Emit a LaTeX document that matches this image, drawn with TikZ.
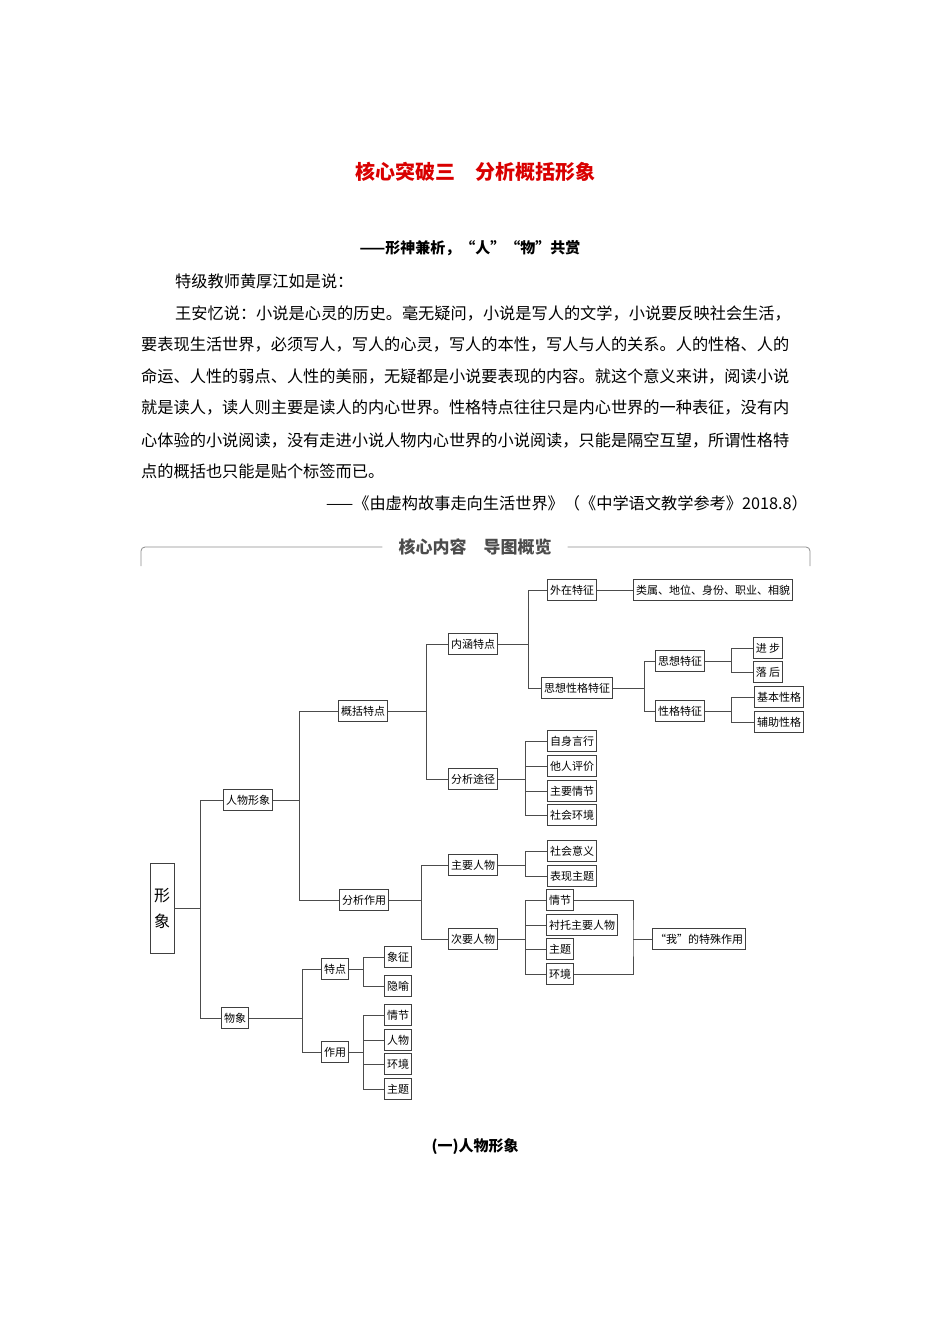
\documentclass[tikz,border=0pt]{standalone}
\usepackage{fontspec}
\setmainfont{Noto Sans CJK SC}
\usepackage{tikz}

\begin{document}
\begin{tikzpicture}[x=1pt, y=-1pt,
    box/.style={draw=black!75, semithick, inner sep=2.5pt, minimum height=21pt, font=\fontsize{11}{12}\selectfont},
    conn/.style={draw=black!70, semithick},
    body/.style={anchor=west, inner sep=0pt, font=\fontsize{16.2}{17}\selectfont}]
    \useasboundingbox (0,0) rectangle (950,1344);
    % heading and text
    \node[font=\fontsize{20}{20}\selectfont\bfseries, text=red!85!black] (title) at (475,172) {核心突破三\quad 分析概括形象};
    \node[font=\fontsize{15}{16}\selectfont\bfseries] (sub) at (470,248) {——形神兼析，“人”“物”共赏};
    \node[body] (l0) at (175,281) {特级教师黄厚江如是说：};
    \node[body] (l1) at (175,313) {王安忆说：小说是心灵的历史。毫无疑问，小说是写人的文学，小说要反映社会生活，};
    \node[body] (l2) at (141,345) {要表现生活世界，必须写人，写人的心灵，写人的本性，写人与人的关系。人的性格、人的};
    \node[body] (l3) at (141,376) {命运、人性的弱点、人性的美丽，无疑都是小说要表现的内容。就这个意义来讲，阅读小说};
    \node[body] (l4) at (141,408) {就是读人，读人则主要是读人的内心世界。性格特点往往只是内心世界的一种表征，没有内};
    \node[body] (l5) at (141,440) {心体验的小说阅读，没有走进小说人物内心世界的小说阅读，只能是隔空互望，所谓性格特};
    \node[body] (l6) at (141,471) {点的概括也只能是贴个标签而已。};
    \node[body, anchor=east] (l7) at (808,503) {——《由虚构故事走向生活世界》（《中学语文教学参考》2018.8）};
    % frame of the map
    \node[font=\fontsize{17}{18}\selectfont\bfseries, text=black!70, inner xsep=16pt] (map) at (475,547) {核心内容\quad 导图概览};
    \draw[black!45, thick, rounded corners=4pt] (141,566) |- (map.west);
    \draw[black!45, thick, rounded corners=4pt] (map.east) -| (810,566);
    % boxes
    \node[box, minimum width=24pt, minimum height=90pt, font=\fontsize{16}{26}\selectfont, align=center] (xx) at (162,908) {形\\象};
    \node[box] (rw) at (248,800) {人物形象};
    \node[box] (wx) at (235,1018) {物象};
    \node[box] (gk) at (363,711) {概括特点};
    \node[box] (fxzy) at (364,900) {分析作用};
    \node[box] (nh) at (473,644) {内涵特点};
    \node[box] (tj) at (473,779) {分析途径};
    \node[box] (wz) at (572,590) {外在特征};
    \node[box] (lei) at (713,590) {类属、地位、身份、职业、相貌};
    \node[box] (sxxg) at (577,688) {思想性格特征};
    \node[box] (sx) at (680,661) {思想特征};
    \node[box] (xg) at (680,711) {性格特征};
    \node[box] (jb) at (768,648) {进 步};
    \node[box] (lh) at (768,672) {落 后};
    \node[box] (jbxg) at (779,697) {基本性格};
    \node[box] (fzxg) at (779,722) {辅助性格};
    \node[box] (t1) at (572,741) {自身言行};
    \node[box] (t2) at (572,766) {他人评价};
    \node[box] (t3) at (572,791) {主要情节};
    \node[box] (t4) at (572,815) {社会环境};
    \node[box] (zy) at (473,865) {主要人物};
    \node[box] (cy) at (473,939) {次要人物};
    \node[box] (z1) at (572,851) {社会意义};
    \node[box] (z2) at (572,876) {表现主题};
    \node[box] (c1) at (560,900) {情节};
    \node[box] (c2) at (582,925) {衬托主要人物};
    \node[box] (c3) at (560,949) {主题};
    \node[box] (c4) at (560,974) {环境};
    \node[box] (wo) at (699,939) {“我”的特殊作用};
    \node[box] (td) at (335,969) {特点};
    \node[box] (zyo) at (335,1052) {作用};
    \node[box] (d1) at (398,957) {象征};
    \node[box] (d2) at (398,986) {隐喻};
    \node[box] (y1) at (398,1015) {情节};
    \node[box] (y2) at (398,1040) {人物};
    \node[box] (y3) at (398,1064) {环境};
    \node[box] (y4) at (398,1089) {主题};
    % connectors
    \foreach \a/\b/\d in {xx/rw/26, xx/wx/26, rw/gk/26, rw/fxzy/26, gk/nh/38,
        gk/tj/38, nh/wz/30, nh/sxxg/30, sxxg/sx/31, sxxg/xg/31,
        sx/jb/26, sx/lh/26, xg/jbxg/26, xg/fzxg/26,
        tj/t1/27, tj/t2/27, tj/t3/27, tj/t4/27, fxzy/zy/32, fxzy/cy/32,
        zy/z1/27, zy/z2/27, cy/c1/27, cy/c2/27, cy/c3/27, cy/c4/27,
        wx/td/53, wx/zyo/53, td/d1/14, td/d2/14,
        zyo/y1/14, zyo/y2/14, zyo/y3/14, zyo/y4/14}
        \draw[conn] (\a.east) -- ++(\d,0) |- (\b.west);
    \draw[conn] (wz) -- (lei);
    \draw[conn] (c1.east) -| (633,939) |- (c4.east);
    \draw[conn] (633,939) -- (wo.west);
    \node[font=\fontsize{15}{16}\selectfont\bfseries] (part) at (475,1147) {(一)人物形象};
\end{tikzpicture}
\end{document}
